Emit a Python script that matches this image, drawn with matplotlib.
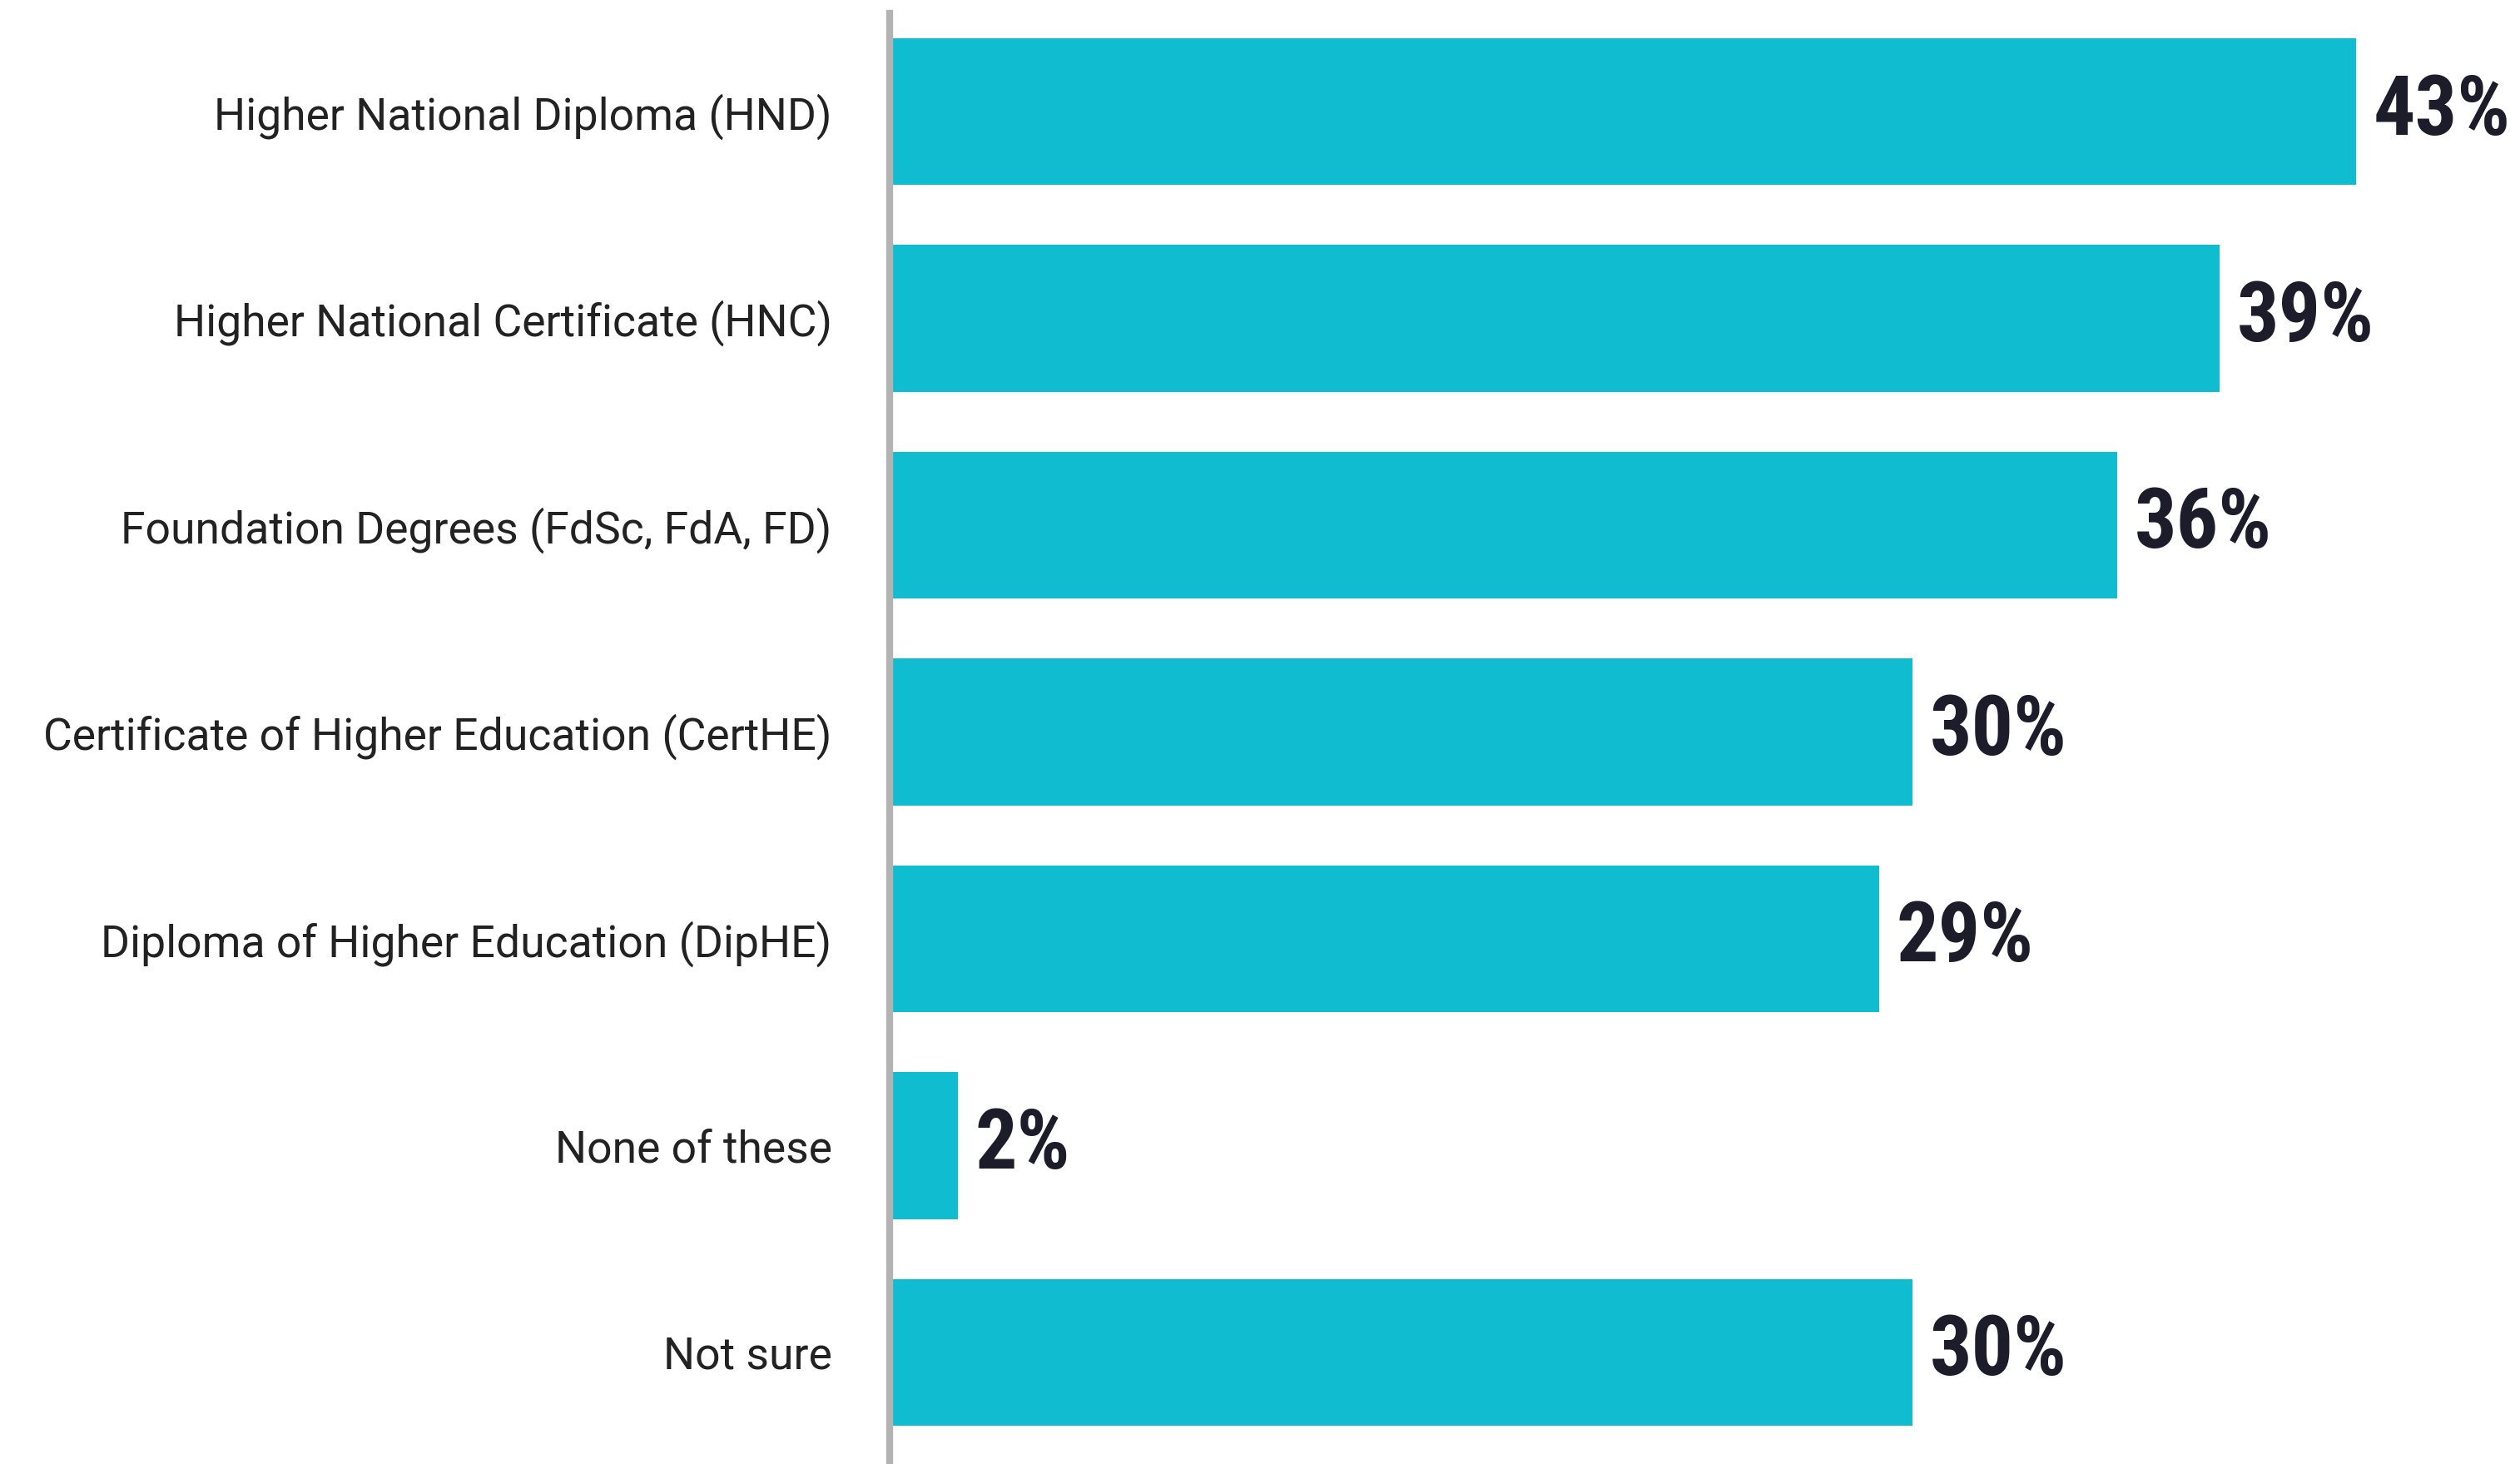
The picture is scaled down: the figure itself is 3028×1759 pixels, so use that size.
import matplotlib
matplotlib.use("Agg")
import matplotlib.pyplot as plt
from matplotlib import font_manager

categories = [
    "Higher National Diploma (HND)",
    "Higher National Certificate (HNC)",
    "Foundation Degrees (FdSc, FdA, FD)",
    "Certificate of Higher Education (CertHE)",
    "Diploma of Higher Education (DipHE)",
    "None of these",
    "Not sure",
]
values = [43, 39, 36, 30, 29, 2, 30]
value_labels = ["43%", "39%", "36%", "30%", "29%", "2%", "30%"]

names = {f.name for f in font_manager.fontManager.ttflist}
narrow = [n for n in ["Roboto Condensed", "Liberation Sans Narrow", "DejaVu Sans Condensed"] if n in names]

W, H = 3028, 1759
fig = plt.figure(figsize=(W / 100, H / 100), dpi=100)
left_px, top_px = 1069, 16
ax = fig.add_axes([left_px / W, 0, (W - left_px) / W, (H - top_px) / H])

bar_color = "#10BDD0"
y = list(range(len(categories)))
ax.barh(y, values, height=0.71, color=bar_color, zorder=1)

ax.set_xlim(0, 47.8)
ax.set_ylim(6.54, -0.475)

ax.set_yticks(y)
ax.set_yticklabels(categories, fontsize=38.5, color="#222222", family=["Roboto", "DejaVu Sans"])
ax.tick_params(axis="y", length=0, pad=50)
ax.set_xticks([])

for s in ["top", "right", "bottom"]:
    ax.spines[s].set_visible(False)
ax.spines["left"].set_color("#b3b3b3")
ax.spines["left"].set_linewidth(6)
ax.spines["left"].set_zorder(3)

vfam = narrow + ["DejaVu Sans"] if narrow else ["DejaVu Sans"]
for yi, v, lab in zip(y, values, value_labels):
    ax.text(v + 0.5, yi, lab, va="center", ha="left", fontsize=72, fontweight="bold",
            color="#1c1c2a", family=vfam, fontstretch="condensed")

fig.savefig("out.png", dpi=100, facecolor="white")
